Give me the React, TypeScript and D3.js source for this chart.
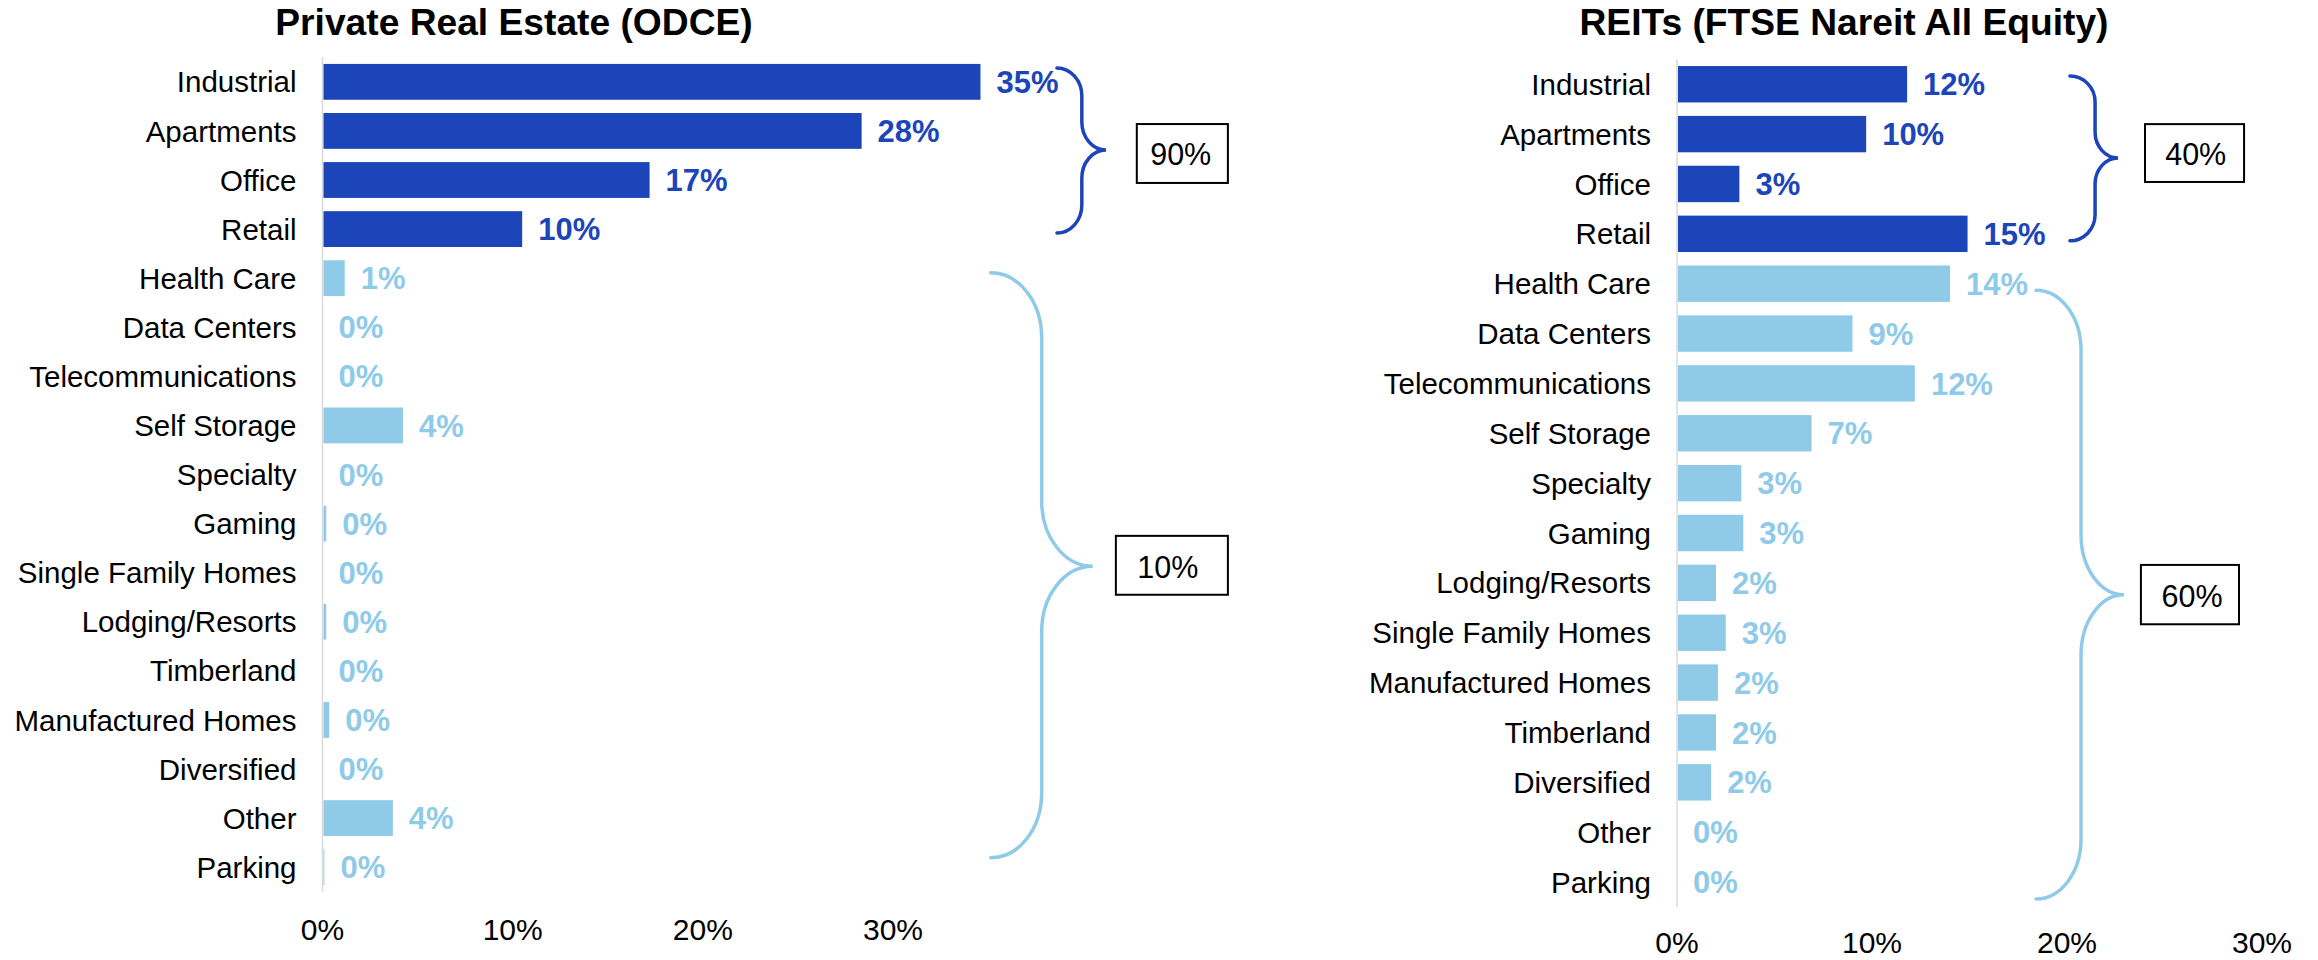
import React from "react";
import * as d3 from "d3";

// ---------- DATA ----------
const odceCategories = [
  "Industrial", "Apartments", "Office", "Retail", "Health Care", "Data Centers",
  "Telecommunications", "Self Storage", "Specialty", "Gaming", "Single Family Homes",
  "Lodging/Resorts", "Timberland", "Manufactured Homes", "Diversified", "Other", "Parking",
];
const odceValues = [34.6, 28.35, 17.2, 10.5, 1.17, 0, 0, 4.23, 0, 0.2, 0, 0.2, 0, 0.35, 0, 3.7, 0.1];
const odceLabels = ["35%", "28%", "17%", "10%", "1%", "0%", "0%", "4%", "0%", "0%", "0%", "0%", "0%", "0%", "0%", "4%", "0%"];

const reitCategories = [
  "Industrial", "Apartments", "Office", "Retail", "Health Care", "Data Centers",
  "Telecommunications", "Self Storage", "Specialty", "Gaming", "Lodging/Resorts",
  "Single Family Homes", "Manufactured Homes", "Timberland", "Diversified", "Other", "Parking",
];
const reitValues = [11.8, 9.7, 3.2, 14.9, 14.0, 9.0, 12.2, 6.9, 3.3, 3.4, 2.0, 2.5, 2.1, 2.0, 1.75, 0, 0];
const reitLabels = ["12%", "10%", "3%", "15%", "14%", "9%", "12%", "7%", "3%", "3%", "2%", "3%", "2%", "2%", "2%", "0%", "0%"];

const tickValues = [0, 10, 20, 30];
const tickLabels = ["0%", "10%", "20%", "30%"];

const odceGroupTotals = ["90%", "10%"];
const reitGroupTotals = ["40%", "60%"];
const coreCount = 4;

// ---------- STYLE ----------
const DARK = "#1C45B9";
const LIGHT = "#8FCBE9";
const FONT = "'Liberation Sans', Arial, Helvetica, sans-serif";

type Brace = { xEnd: number; xSpine: number; xTip: number; r0: number; r1: number; rm: number; ry: number; color: string };
type Box = { x0: number; x1: number; r0: number; r1: number; tx: number; tr: number; text: string };

type PanelProps = {
  title: string;
  titleX: number;
  categories: string[];
  values: number[];
  labels: string[];
  x0: number;
  x30: number;
  top: number;
  bottom: number;
  tickY: number;
  braces: Brace[];
  boxes: Box[];
};

function bracePath(b: Brace, x: (v: number) => number, r: (v: number) => number) {
  const xe = x(b.xEnd), xs = x(b.xSpine), xt = x(b.xTip);
  const y0 = r(b.r0), y1 = r(b.r1), ym = r(b.rm);
  const rx1 = xs - xe;
  const rx2 = xt - xs;
  const ry = b.ry;
  return [
    `M${xe},${y0}`,
    `A${rx1},${ry} 0 0 1 ${xs},${y0 + ry}`,
    `L${xs},${ym - ry}`,
    `A${rx2},${ry} 0 0 0 ${xt},${ym}`,
    `A${rx2},${ry} 0 0 0 ${xs},${ym + ry}`,
    `L${xs},${y1 - ry}`,
    `A${rx1},${ry} 0 0 1 ${xe},${y1}`,
  ].join(" ");
}

function Panel(p: PanelProps) {
  const x = d3.scaleLinear().domain([0, 30]).range([p.x0, p.x30]);
  const y = d3
    .scaleBand<string>()
    .domain(p.categories)
    .range([p.top, p.bottom])
    .paddingInner(0.27)
    .paddingOuter(0.135);
  const row = d3.scaleLinear().domain([0, p.categories.length]).range([p.top, p.bottom]);
  const bw = y.bandwidth();
  return (
    <g>
      <text x={p.titleX} y={35} textAnchor="middle" fontFamily={FONT} fontWeight="bold" fontSize={37.2} fill="#000">
        {p.title}
      </text>
      <line x1={x(0)} x2={x(0)} y1={p.top} y2={p.bottom} stroke="#D9D9D9" strokeWidth={1.5} />
      {p.categories.map((c, i) => {
        const yy = y(c) as number;
        const color = i < coreCount ? DARK : LIGHT;
        const xe = x(p.values[i]);
        return (
          <g key={c}>
            {p.values[i] > 0 && (
              <rect x={x(0) + 1} y={yy} width={Math.max(0, xe - x(0) - 1)} height={bw} fill={color} />
            )}
            <text x={x(0) - 26} y={yy + bw / 2} dy="0.36em" textAnchor="end" fontFamily={FONT} fontSize={29.5} fill="#000">
              {c}
            </text>
            <text x={xe + 16} y={yy + bw / 2} dy="0.36em" textAnchor="start" fontFamily={FONT} fontWeight="bold" fontSize={31} fill={color}>
              {p.labels[i]}
            </text>
          </g>
        );
      })}
      {tickValues.map((t, i) => (
        <text key={t} x={x(t)} y={p.tickY} textAnchor="middle" fontFamily={FONT} fontSize={30} fill="#000">
          {tickLabels[i]}
        </text>
      ))}
      {p.braces.map((b, i) => (
        <path key={"b" + i} d={bracePath(b, x, row)} fill="none" stroke={b.color} strokeWidth={3.5} strokeLinecap="round" />
      ))}
      {p.boxes.map((b, i) => (
        <g key={"x" + i}>
          <rect x={x(b.x0)} y={row(b.r0)} width={x(b.x1) - x(b.x0)} height={row(b.r1) - row(b.r0)} fill="#fff" stroke="#000" strokeWidth={2} />
          <text x={x(b.tx)} y={row(b.tr)} textAnchor="middle" fontFamily={FONT} fontSize={30.5} fill="#000">
            {b.text}
          </text>
        </g>
      ))}
    </g>
  );
}

export default function App() {
  return (
    <svg width={2318} height={960} style={{ position: "absolute", left: 0, top: 0, background: "#fff" }}>
      <rect width={2318} height={960} fill="#fff" />
      <Panel
        title="Private Real Estate (ODCE)"
        titleX={514}
        categories={odceCategories}
        values={odceValues}
        labels={odceLabels}
        x0={322.5}
        x30={893}
        top={57.3}
        bottom={891.7}
        tickY={940}
        braces={[
          { xEnd: 38.62, xSpine: 39.93, xTip: 41.2, r0: 0.218, r1: 3.58, rm: 1.89, ry: 28, color: DARK },
          { xEnd: 35.14, xSpine: 37.82, xTip: 40.5, r0: 4.39, r1: 16.31, rm: 10.37, ry: 65, color: LIGHT },
        ]}
        boxes={[
          { x0: 42.82, x1: 47.61, r0: 1.36, r1: 2.56, tx: 45.13, tr: 2.19, text: odceGroupTotals[0] },
          { x0: 41.72, x1: 47.61, r0: 9.75, r1: 10.95, tx: 44.45, tr: 10.6, text: odceGroupTotals[1] },
        ]}
      />
      <Panel
        title="REITs (FTSE Nareit All Equity)"
        titleX={1844}
        categories={reitCategories}
        values={reitValues}
        labels={reitLabels}
        x0={1677}
        x30={2262}
        top={59.3}
        bottom={907}
        tickY={953}
        braces={[
          { xEnd: 20.15, xSpine: 21.44, xTip: 22.62, r0: 0.335, r1: 3.64, rm: 1.98, ry: 26, color: DARK },
          { xEnd: 18.41, xSpine: 20.72, xTip: 22.92, r0: 4.63, r1: 16.84, rm: 10.74, ry: 60, color: LIGHT },
        ]}
        boxes={[
          { x0: 24.0, x1: 29.08, r0: 1.3, r1: 2.46, tx: 26.6, tr: 2.12, text: reitGroupTotals[0] },
          { x0: 23.79, x1: 28.82, r0: 10.14, r1: 11.33, tx: 26.41, tr: 10.98, text: reitGroupTotals[1] },
        ]}
      />
    </svg>
  );
}
